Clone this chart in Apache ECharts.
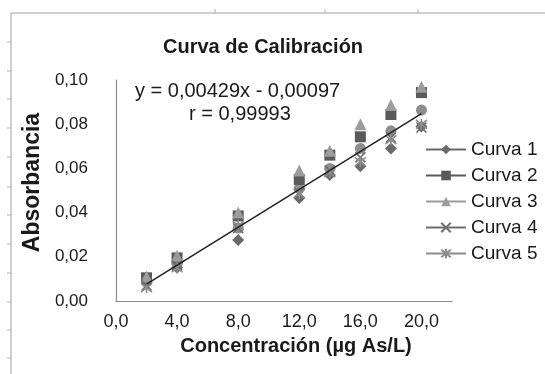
<!DOCTYPE html>
<html><head><meta charset="utf-8">
<script src="https://cdn.jsdelivr.net/npm/echarts@6/dist/echarts.min.js"></script>
<style>html,body{margin:0;padding:0;background:#fff}#c{width:545px;height:374px}</style>
</head><body><div id="c"></div>
<script>
const concentrations = [2, 4, 8, 12, 14, 16, 18, 20];
const curva1 = [0.0085, 0.0150, 0.0276, 0.0466, 0.0570, 0.0610, 0.0690, 0.0790];
const curva2 = [0.0105, 0.0195, 0.0385, 0.0550, 0.0660, 0.0743, 0.0844, 0.0943];
const curva3 = [0.0110, 0.0205, 0.0400, 0.0590, 0.0680, 0.0800, 0.0887, 0.0970];
const curva4 = [0.0070, 0.0160, 0.0330, 0.0490, 0.0590, 0.0650, 0.0740, 0.0785];
const curva5 = [0.0060, 0.0150, 0.0340, 0.0485, 0.0580, 0.0630, 0.0730, 0.0800];
const promedio = [0.0085, 0.0170, 0.0330, 0.0510, 0.0600, 0.0690, 0.0770, 0.0864];
const trendX = [2, 20];
const trendY = [0.0076, 0.0848];
const seriesNames = ['Curva 1', 'Curva 2', 'Curva 3', 'Curva 4', 'Curva 5'];
const equationText = 'y = 0,00429x - 0,00097';
const rText = 'r = 0,99993';

const FONT = 'Liberation Sans, Arial, sans-serif';
const pairs = (xs, ys) => xs.map((x, i) => [x, ys[i]]);
const X_PATH = 'path://M0,0L10,10M10,0L0,10';
const STAR_PATH = 'path://M0,1L10,9M10,1L0,9M5,0L5,10';

const chart = echarts.init(document.getElementById('c'));
function mk(name, data, symbol, color, size, stroke) {
  return {
    name, type: 'line', data: pairs(concentrations, data),
    symbol, symbolSize: size, showSymbol: true, showAllSymbol: true,
    lineStyle: { width: 0, opacity: 0, color },
    itemStyle: stroke ? { color: 'rgba(0,0,0,0)', borderColor: color, borderWidth: 1.6 } : { color, borderWidth: 0 },
    emphasis: { disabled: true }, silent: true
  };
}
const frame = [
  { type: 'line', shape: { x1: 11, y1: 13, x2: 545, y2: 13 }, style: { stroke: '#a0a0a0', lineWidth: 1 } },
  { type: 'line', shape: { x1: 11, y1: 13, x2: 11, y2: 374 }, style: { stroke: '#a0a0a0', lineWidth: 1 } }
];
[42, 71, 99, 128, 157, 187, 215, 244, 273, 302, 330, 358].forEach(y =>
  frame.push({ type: 'line', shape: { x1: 7, y1: y, x2: 11, y2: y }, style: { stroke: '#b0b0b0', lineWidth: 1 } }));
[215, 325, 418].forEach(x =>
  frame.push({ type: 'line', shape: { x1: x, y1: 9, x2: x, y2: 13 }, style: { stroke: '#b0b0b0', lineWidth: 1 } }));

const option = {
  animation: false,
  backgroundColor: '#fff',
  title: {
    text: 'Curva de Calibración', left: 158, top: 32,
    textStyle: { fontFamily: FONT, fontSize: 20, fontWeight: 'bold', color: '#1a1a1a' }
  },
  grid: { left: 116, right: 93, top: 80, bottom: 73 },
  xAxis: {
    type: 'value', min: 0, max: 22, interval: 4,
    name: 'Concentración (µg As/L)', nameLocation: 'middle', nameGap: 35,
    nameTextStyle: { fontFamily: FONT, fontSize: 20, fontWeight: 'bold', color: '#1a1a1a', padding: [0, 0, 0, 24] },
    axisLine: { lineStyle: { color: '#8a8a8a', width: 1.2 } },
    axisTick: { show: false }, splitLine: { show: false },
    axisLabel: { showMaxLabel: false, margin: 12, fontFamily: FONT, fontSize: 18, color: '#1a1a1a',
      formatter: v => v === 22 ? '' : v.toFixed(1).replace('.', ',') }
  },
  yAxis: {
    type: 'value', min: 0, max: 0.1, interval: 0.02,
    name: 'Absorbancia', nameLocation: 'middle', nameGap: 72, nameRotate: 90,
    nameTextStyle: { fontFamily: FONT, fontSize: 23, fontWeight: 'bold', color: '#1a1a1a', padding: [0, 0, 0, 16] },
    axisLine: { show: true, lineStyle: { color: '#8a8a8a', width: 1.2 } },
    axisTick: { show: false }, splitLine: { show: false },
    axisLabel: { margin: 28, fontFamily: FONT, fontSize: 17, color: '#1a1a1a',
      formatter: v => v.toFixed(2).replace('.', ',') }
  },
  legend: {
    data: seriesNames, orient: 'vertical', left: 420, top: 135,
    itemWidth: 40, itemHeight: 12, itemGap: 7,
    lineStyle: { width: 2, opacity: 1 },
    textStyle: { fontFamily: FONT, fontSize: 19, color: '#1a1a1a', lineHeight: 18 },
    selectedMode: false
  },
  graphic: frame.concat([
    { type: 'text', left: 135, top: 81, style: { text: equationText, font: '20px ' + FONT, fill: '#1a1a1a' } },
    { type: 'text', left: 189, top: 104, style: { text: rText, font: '20px ' + FONT, fill: '#1a1a1a' } }
  ]),
  series: [
    mk('Promedio', promedio, 'circle', '#8e8e8e', 11, false),
    mk('Curva 1', curva1, 'diamond', '#6a6a6a', 12, false),
    mk('Curva 2', curva2, 'rect', '#5a5a5a', 11, false),
    mk('Curva 3', curva3, 'triangle', '#9c9c9c', 12, false),
    mk('Curva 4', curva4, X_PATH, '#6e6e6e', 10, true),
    mk('Curva 5', curva5, STAR_PATH, '#8c8c8c', 11, true),
    {
      name: 'Tendencia', type: 'line', data: pairs(trendX, trendY), symbol: 'none',
      lineStyle: { color: '#222', width: 1.5 }, silent: true, z: 5
    }
  ]
};
chart.setOption(option);
</script></body></html>
